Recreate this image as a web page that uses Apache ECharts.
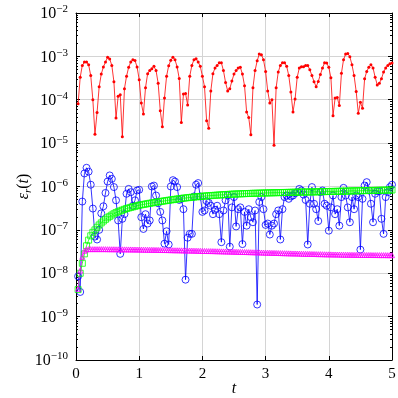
<!DOCTYPE html>
<html>
<head>
<meta charset="utf-8">
<script src="https://cdn.jsdelivr.net/npm/echarts@6/dist/echarts.min.js"></script>
<style>
  html, body { margin: 0; padding: 0; background: #fff; }
  #chart { width: 398px; height: 398px; }
</style>
</head>
<body>
<div id="chart"></div>
<script>
// sample step of all four series (t = dt, 2dt, ..., 5)
const dt = 1 / 30

// red: small dots
const redErr = [
  8.1e-5, 3.3e-4, 6.2e-4, 7.4e-4, 7.4e-4, 6.4e-4, 3.6e-4, 1.0e-4, 1.6e-5, 5.1e-5,
  2.0e-4, 3.9e-4, 5.7e-4, 7.4e-4, 9.5e-4, 8.7e-4, 6.2e-4, 2.6e-4, 3.8e-5, 1.2e-4,
  1.3e-4, 1.4e-5, 1.8e-4, 3.5e-4, 5.6e-4, 7.4e-4, 8.4e-4, 8.0e-4, 5.7e-4, 2.9e-4,
  8.4e-5, 4.7e-5, 1.9e-4, 4.0e-4, 4.7e-4, 5.2e-4, 5.9e-4, 4.7e-4, 2.4e-4, 5.6e-5,
  2.4e-5, 1.1e-4, 3.5e-4, 6.1e-4, 8.1e-4, 9.5e-4, 8.4e-4, 5.7e-4, 3.1e-4, 3.0e-5,
  1.35e-4, 1.4e-4, 7.6e-5, 3.5e-4, 6.2e-4, 8.4e-4, 8.8e-4, 7.4e-4, 5.9e-4, 3.5e-4,
  2.0e-4, 3.3e-5, 2.2e-5, 1.6e-4, 4.0e-4, 5.4e-4, 6.2e-4, 7.1e-4, 7.1e-4, 4.7e-4,
  2.5e-4, 1.6e-4, 1.8e-4, 2.7e-4, 3.9e-4, 4.7e-4, 5.4e-4, 5.6e-4, 3.9e-4, 2.1e-4,
  5.2e-5, 3.9e-5, 1.55e-5, 1.9e-4, 4.7e-4, 7.9e-4, 1.13e-3, 1.09e-3, 8.4e-4, 4.5e-4,
  1.6e-4, 8.4e-5, 1.0e-4, 8.9e-6, 1.9e-4, 4.35e-4, 6.2e-4, 7.1e-4, 7.1e-4, 5.9e-4,
  3.6e-4, 1.5e-4, 5.2e-5, 1.04e-4, 3.3e-4, 5.4e-4, 5.8e-4, 5.8e-4, 6.2e-4, 6.2e-4,
  4.9e-4, 3.6e-4, 2.6e-4, 2.0e-4, 2.65e-4, 3.8e-4, 5.4e-4, 7.1e-4, 7.0e-4, 5.6e-4,
  3.2e-4, 4.3e-5, 1.1e-4, 1.13e-4, 7.4e-5, 4.1e-4, 8.4e-4, 1.13e-3, 1.17e-3, 9.8e-4,
  6.4e-4, 3.6e-4, 1.55e-4, 4.9e-5, 8.7e-5, 6.4e-5, 3.05e-4, 4.5e-4, 5.6e-4, 6.4e-4,
  5.4e-4, 3.3e-4, 2.2e-4, 2.4e-4, 3.05e-4, 4.35e-4, 5.4e-4, 6.2e-4, 6.8e-4, 7.0e-4
]

// blue: open circles
const blueErr = [
  8.5e-9, 3.7e-9, 4.5e-7, 2.0e-6, 2.7e-6, 2.2e-6, 1.1e-6, 3.1e-7, 7.0e-8, 6.0e-8,
  1.0e-7, 2.4e-7, 3.5e-7, 7.1e-7, 1.3e-6, 1.8e-6, 1.5e-6, 9.7e-7, 4.8e-7, 1.65e-7,
  2.8e-8, 1.8e-7, 2.3e-7, 6.8e-7, 8.8e-7, 7.4e-7, 3.6e-7, 4.8e-7, 8.1e-7, 8.4e-7,
  1.96e-7, 1.05e-7, 2.3e-7, 1.4e-7, 1.65e-7, 1.0e-6, 1.05e-6, 6.2e-7, 4.1e-7, 2.6e-7,
  1.65e-7, 4.8e-8, 9.3e-8, 4.6e-8, 1.0e-6, 1.4e-6, 1.3e-6, 9.7e-7, 4.9e-7, 5.2e-7,
  3.0e-7, 7.1e-9, 6.6e-8, 8.1e-8, 8.1e-8, 5.9e-7, 1.1e-6, 1.2e-6, 5.9e-7, 2.6e-7,
  2.8e-7, 4.6e-7, 4.2e-7, 3.6e-7, 2.3e-7, 2.9e-7, 3.6e-7, 2.3e-7, 5.2e-8, 2.8e-7,
  4.8e-7, 6.2e-7, 4.1e-8, 3.3e-7, 5.7e-7, 1.2e-7, 3.0e-7, 3.3e-7, 4.7e-8, 2.6e-7,
  1.25e-7, 3.0e-7, 1.96e-7, 1.5e-7, 2.8e-7, 1.9e-9, 4.4e-7, 5.7e-7, 3.0e-7, 1.3e-7,
  1.4e-7, 7.8e-8, 1.25e-7, 1.4e-7, 2.3e-7, 2.8e-7, 6.0e-8, 3.0e-7, 5.7e-7, 6.2e-7,
  5.2e-7, 5.9e-7, 6.2e-7, 7.0e-7, 7.4e-7, 8.8e-7, 8.1e-7, 6.5e-7, 4.9e-7, 4.6e-8,
  4.0e-7, 9.7e-7, 4.0e-7, 3.0e-7, 1.6e-7, 7.4e-7, 8.1e-7, 4.0e-7, 3.6e-7, 9.6e-8,
  3.3e-7, 6.2e-7, 2.3e-7, 3.0e-7, 1.25e-7, 5.7e-7, 9.3e-7, 6.2e-7, 3.3e-7, 1.5e-7,
  5.7e-7, 3.0e-7, 6.2e-7, 5.7e-7, 3.5e-8, 5.2e-7, 1.05e-6, 1.26e-6, 8.1e-7, 4.0e-7,
  1.5e-7, 6.8e-7, 7.8e-7, 7.8e-7, 1.8e-7, 8.1e-8, 5.7e-7, 7.4e-7, 9.7e-7, 1.1e-6
]

// green: open squares, in units of 1e-7
const greenErr = [
  0.042, 0.10, 0.17, 0.28, 0.43, 0.58, 0.73, 0.88, 1.00, 1.15,
  1.30, 1.45, 1.60, 1.75, 1.90, 2.05, 2.20, 2.35, 2.50, 2.62,
  2.74, 2.86, 2.98, 3.10, 3.20, 3.30, 3.40, 3.50, 3.60, 3.70,
  3.78, 3.86, 3.94, 4.02, 4.10, 4.18, 4.26, 4.34, 4.42, 4.50,
  4.58, 4.66, 4.74, 4.82, 4.90, 4.98, 5.06, 5.14, 5.22, 5.30,
  5.38, 5.45, 5.52, 5.59, 5.66, 5.72, 5.78, 5.84, 5.90, 5.96,
  6.02, 6.07, 6.12, 6.17, 6.22, 6.27, 6.32, 6.37, 6.42, 6.47,
  6.52, 6.56, 6.60, 6.64, 6.68, 6.72, 6.75, 6.78, 6.81, 6.84,
  6.87, 6.90, 6.93, 6.96, 6.98, 7.00, 7.03, 7.05, 7.08, 7.10,
  7.12, 7.14, 7.16, 7.18, 7.20, 7.22, 7.24, 7.26, 7.28, 7.30,
  7.32, 7.34, 7.36, 7.38, 7.40, 7.42, 7.44, 7.45, 7.46, 7.47,
  7.48, 7.50, 7.52, 7.54, 7.56, 7.58, 7.60, 7.62, 7.64, 7.66,
  7.68, 7.70, 7.72, 7.74, 7.76, 7.78, 7.80, 7.82, 7.85, 7.90,
  7.92, 7.94, 7.96, 7.98, 8.00, 8.02, 8.04, 8.06, 8.08, 8.10,
  8.12, 8.14, 8.16, 8.18, 8.20, 8.22, 8.24, 8.26, 8.28, 8.30
].map(v => v * 1e-7)

// magenta: triangles, in units of 1e-8
const magentaErr = [
  0.44, 1.15, 2.40, 3.30, 3.55, 3.60, 3.60, 3.60, 3.60, 3.60,
  3.60, 3.60, 3.60, 3.60, 3.59, 3.59, 3.58, 3.58, 3.57, 3.57,
  3.56, 3.56, 3.55, 3.55, 3.54, 3.54, 3.53, 3.53, 3.52, 3.52,
  3.51, 3.50, 3.50, 3.49, 3.48, 3.48, 3.47, 3.46, 3.46, 3.45,
  3.44, 3.43, 3.43, 3.42, 3.41, 3.40, 3.39, 3.39, 3.38, 3.37,
  3.36, 3.35, 3.34, 3.34, 3.33, 3.32, 3.31, 3.30, 3.29, 3.28,
  3.27, 3.26, 3.25, 3.25, 3.24, 3.23, 3.22, 3.21, 3.20, 3.19,
  3.18, 3.17, 3.16, 3.15, 3.14, 3.13, 3.12, 3.11, 3.10, 3.09,
  3.08, 3.07, 3.06, 3.05, 3.04, 3.03, 3.02, 3.01, 3.00, 2.99,
  2.98, 2.97, 2.96, 2.95, 2.94, 2.93, 2.92, 2.91, 2.90, 2.89,
  2.88, 2.87, 2.86, 2.86, 2.85, 2.84, 2.83, 2.82, 2.81, 2.80,
  2.80, 2.79, 2.78, 2.77, 2.76, 2.76, 2.75, 2.74, 2.73, 2.73,
  2.72, 2.71, 2.71, 2.70, 2.70, 2.69, 2.69, 2.68, 2.68, 2.67,
  2.67, 2.66, 2.66, 2.66, 2.65, 2.65, 2.65, 2.64, 2.64, 2.64,
  2.63, 2.63, 2.63, 2.62, 2.62, 2.62, 2.62, 2.61, 2.61, 2.61
].map(v => v * 1e-8)

const xTicks = [0, 1, 2, 3, 4, 5]
const yTickExps = [-10, -9, -8, -7, -6, -5, -4, -3, -2]

const times = redErr.map((_, i) => (i + 1) * dt)
const pairs = arr => arr.map((v, i) => [times[i], v])

const majorTicks = yTickExps.map(e => Math.pow(10, e))
const minorTicks = []
for (let e = yTickExps[0]; e < yTickExps[yTickExps.length - 1]; e++) {
  for (let m = 2; m <= 9; m++) minorTicks.push(m * Math.pow(10, e))
}

const FONT = 'Liberation Serif'
const gridColor = '#d4d4d4'

const chart = echarts.init(document.getElementById('chart'))

const baseY = {
  type: 'log',
  logBase: 10,
  min: 1e-10,
  max: 1e-2,
  axisLine: { show: false },
  axisLabel: { show: false },
  splitLine: { show: false },
  axisTick: { show: false }
}

chart.setOption({
  animation: false,
  grid: { left: 76, right: 6, top: 13, bottom: 38, outerBoundsMode: 'none' },
  xAxis: [
    {
      type: 'value',
      position: 'bottom',
      min: xTicks[0],
      max: xTicks[xTicks.length - 1],
      interval: 1,
      name: 't',
      nameLocation: 'middle',
      nameGap: 21,
      nameMoveOverlap: false,
      nameTextStyle: { fontFamily: FONT, fontStyle: 'italic', fontSize: 16, color: '#000' },
      axisLine: { show: true, lineStyle: { color: '#000', width: 1 } },
      axisTick: { show: true, inside: true, length: 4, lineStyle: { color: '#000' } },
      axisLabel: { fontFamily: FONT, fontSize: 15, color: '#000', margin: 7 },
      splitLine: { show: true, lineStyle: { color: gridColor, width: 1 } }
    },
    {
      type: 'value',
      position: 'top',
      min: xTicks[0],
      max: xTicks[xTicks.length - 1],
      interval: 1,
      axisLine: { show: true, lineStyle: { color: '#000', width: 1 } },
      axisTick: { show: true, inside: true, length: 4, lineStyle: { color: '#000' } },
      axisLabel: { show: false },
      splitLine: { show: false }
    }
  ],
  yAxis: [
    {
      ...baseY,
      position: 'left',
      splitNumber: 8,
      name: '{i|ε}{sub|r}{n|(}{i|t}{n|)}',
      nameLocation: 'middle',
      nameRotate: 90,
      nameGap: 42,
      nameMoveOverlap: false,
      nameTextStyle: {
        color: '#000',
        rich: {
          i: { fontFamily: FONT, fontStyle: 'italic', fontSize: 16, lineHeight: 18, verticalAlign: 'top' },
          n: { fontFamily: FONT, fontSize: 16, lineHeight: 18, verticalAlign: 'top' },
          sub: { fontFamily: FONT, fontStyle: 'italic', fontSize: 11, lineHeight: 10, verticalAlign: 'bottom' }
        }
      },
      axisLine: { show: true, lineStyle: { color: '#000', width: 1 } },
      axisTick: { show: true, inside: true, length: 4, customValues: majorTicks, lineStyle: { color: '#000' } },
      axisLabel: {
        show: true,
        customValues: majorTicks,
        margin: 8,
        formatter: v => '{b|10}{s|' + String(Math.round(Math.log10(v))).replace('-', '−') + '}',
        rich: {
          b: { fontFamily: FONT, fontSize: 16, color: '#000', lineHeight: 18, verticalAlign: 'bottom' },
          s: { fontFamily: FONT, fontSize: 11, color: '#000', lineHeight: 9, verticalAlign: 'top' }
        }
      },
      splitLine: { show: true, lineStyle: { color: gridColor, width: 1 } }
    },
    {
      ...baseY,
      position: 'left',
      axisTick: { show: true, inside: true, length: 2, customValues: minorTicks, lineStyle: { color: '#000' } }
    },
    {
      ...baseY,
      position: 'right',
      axisLine: { show: true, lineStyle: { color: '#000', width: 1 } },
      axisTick: { show: true, inside: true, length: 4, customValues: majorTicks, lineStyle: { color: '#000' } }
    },
    {
      ...baseY,
      position: 'right',
      axisTick: { show: true, inside: true, length: 2, customValues: minorTicks, lineStyle: { color: '#000' } }
    }
  ],
  series: [
    {
      type: 'line',
      data: pairs(redErr),
      symbol: 'circle',
      symbolSize: 3,
      itemStyle: { color: '#ff0000' },
      lineStyle: { color: '#ff0000', width: 0.8 }
    },
    {
      type: 'line',
      data: pairs(blueErr),
      symbol: 'circle',
      symbolSize: 7,
      itemStyle: { color: 'rgba(0,0,0,0)', borderColor: '#0000ff', borderWidth: 0.8 },
      lineStyle: { color: '#0000ff', width: 0.8 }
    },
    {
      type: 'line',
      data: pairs(greenErr),
      symbol: 'rect',
      symbolSize: 6,
      itemStyle: { color: 'rgba(0,0,0,0)', borderColor: '#00ff00', borderWidth: 0.8 },
      lineStyle: { color: '#00ff00', width: 0.8 }
    },
    {
      type: 'line',
      data: pairs(magentaErr),
      symbol: 'triangle',
      symbolSize: 5,
      itemStyle: { color: 'rgba(0,0,0,0)', borderColor: '#ff00ff', borderWidth: 0.8 },
      lineStyle: { color: '#ff00ff', width: 0.8 }
    }
  ]
})
</script>
</body>
</html>
